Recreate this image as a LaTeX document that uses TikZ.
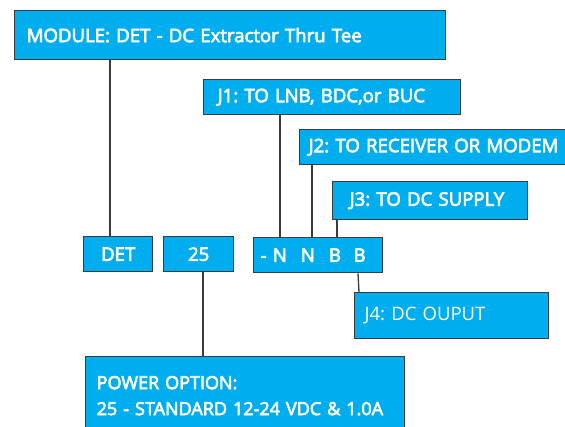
\documentclass[tikz,border=0pt]{standalone}
\usepackage{fontspec}
\setmainfont{Open Sans}[FakeBold=3.5]
\newfontfamily\thinfont{Open Sans}
\frenchspacing
\definecolor{boxblue}{RGB}{0,174,239}
\definecolor{edgegray}{RGB}{55,60,65}
\tikzset{
  partbox/.style={draw=edgegray, line width=1.4pt, fill=boxblue, text=white,
    font=\fontsize{18.6}{23}\selectfont, anchor=north west, inner ysep=0pt, align=left},
  codebox/.style={partbox, align=center, inner xsep=0pt},
  link/.style={draw=edgegray, line width=1.3pt},
}
\begin{document}
\begin{tikzpicture}[x=1pt, y=-1pt]
	\useasboundingbox (0,0) rectangle (565,427);

	% part number boxes
	\node[codebox, minimum width=69pt, minimum height=35pt] (det) at (83,236) {DET};
	\node[codebox, minimum width=70pt, minimum height=35pt] (opt) at (163,236) {25};
	\node[partbox, minimum height=35pt, inner xsep=7pt, text width=115pt] (code) at (253,237)
		{-\ N\hspace{14pt}N\hspace{14pt}B\hspace{12.6pt}B};

	% description boxes
	\node[partbox, minimum height=49pt, inner xsep=12pt, text width=407pt] (module) at (14,10)
		{MODULE: DET - DC Extractor Thru Tee};
	\node[partbox, minimum height=35pt, inner xsep=14pt, text width=229pt] (jone) at (203,79)
		{J1: TO LNB, BDC,or BUC};
	\node[partbox, minimum height=35pt, inner xsep=9pt, text width=262pt] (jtwo) at (299,129)
		{J2: TO RECEIVER OR MODEM};
	\node[partbox, minimum height=38pt, inner xsep=14pt, text width=167pt] (jthree) at (332,181)
		{\hspace{3pt}J3: TO DC SUPPLY};
	\node[partbox, minimum height=46pt, inner xsep=10pt, text width=174pt,
		font=\thinfont\fontsize{18.5}{23}\selectfont] (jfour) at (354,292)
		{J4: DC OUPUT};
	\node[partbox, minimum height=78pt, inner xsep=11pt, text width=297pt,
		font=\fontsize{18}{26}\selectfont] (power) at (85,356)
		{POWER OPTION:\\25 - STANDARD 12-24 VDC \& 1.0A};

	% connectors
	\begin{scope}[link]
		\draw ([xshift=96pt]module.south west) -- ([xshift=96pt]module.south west |- det.north);
		\draw ([xshift=77pt]jone.south west) -- ([xshift=77pt]jone.south west |- code.north);
		\draw ([xshift=13pt]jtwo.south west) -- ([xshift=13pt]jtwo.south west |- code.north);
		\draw ([xshift=5pt]jthree.south west) -- ([xshift=5pt]jthree.south west |- code.north);
		\draw ([xshift=105pt]code.south west) -- ([xshift=5pt]jfour.north west);
		\draw ([xshift=40pt]opt.south west) -- ([xshift=40pt]opt.south west |- power.north);
	\end{scope}
\end{tikzpicture}
\end{document}
